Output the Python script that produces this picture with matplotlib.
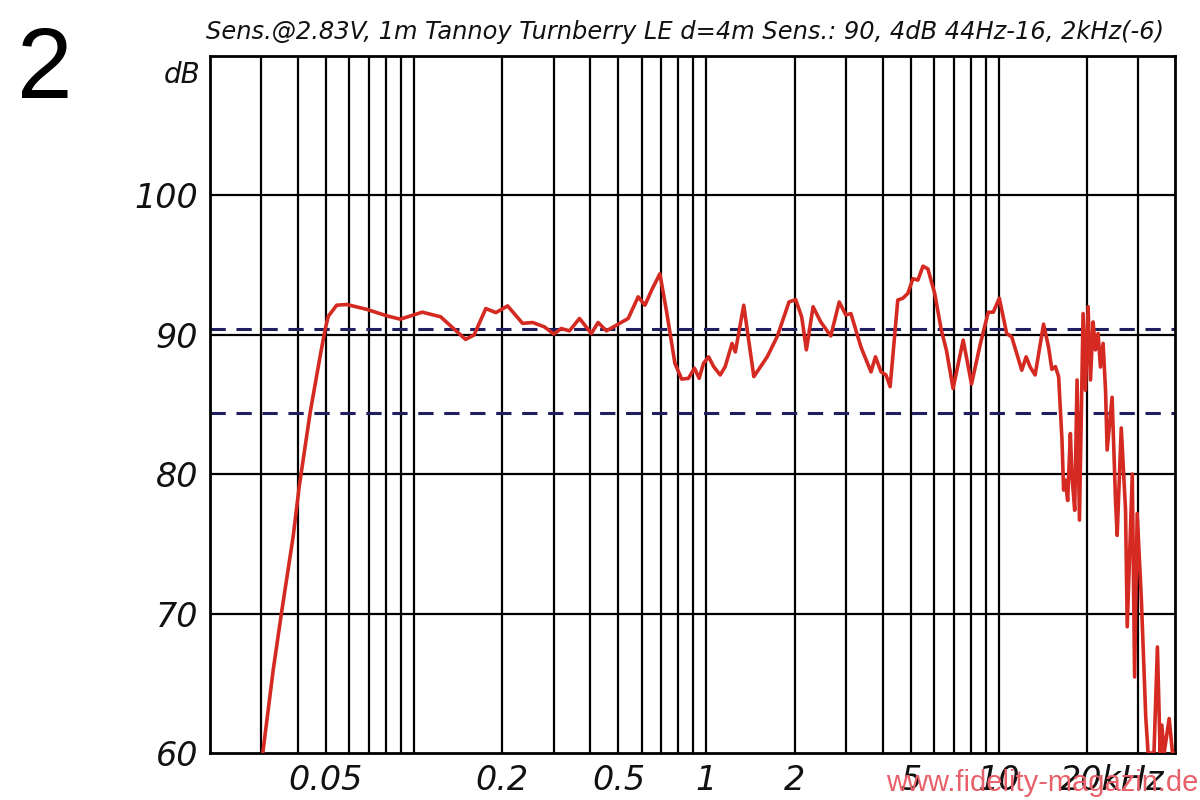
import matplotlib
matplotlib.use("Agg")
import matplotlib.pyplot as plt
from matplotlib.transforms import ScaledTranslation
import numpy as np

# frequency response (kHz, dB)
freq_khz = [
    0.0304, 0.033, 0.0352, 0.0386, 0.0405, 0.0441, 0.0477, 0.0496, 0.0509, 0.0544,
    0.0589, 0.069, 0.0809, 0.0898, 0.1067, 0.1233, 0.150, 0.1604, 0.176, 0.1905,
    0.209, 0.235, 0.2546, 0.279, 0.3006, 0.3186, 0.340, 0.368, 0.404, 0.426,
    0.455, 0.499, 0.540, 0.584, 0.616, 0.65, 0.693, 0.731, 0.78, 0.823,
    0.868, 0.91, 0.944, 0.977, 1.017, 1.058, 1.114, 1.159, 1.223, 1.255,
    1.341, 1.452, 1.613, 1.746, 1.915, 2.018, 2.116, 2.196, 2.315, 2.459,
    2.661, 2.844, 2.997, 3.118, 3.375, 3.652, 3.783, 3.953, 4.11, 4.246,
    4.51, 4.694, 4.883, 5.08, 5.284, 5.5, 5.717, 6.03, 6.353, 6.61,
    6.97, 7.547, 8.06, 8.61, 9.195, 9.566, 10.03, 10.63, 11.06, 11.97,
    12.39, 12.79, 13.3, 14.21, 14.78, 15.17, 15.6, 16.0, 16.43, 16.64,
    16.87, 17.18, 17.55, 17.78, 18.16, 18.5, 18.85, 19.4, 19.77, 20.18,
    20.56, 20.99, 21.38, 21.83, 22.24, 22.71, 23.15, 23.44, 24.38, 25.05,
    25.37, 26.2, 27.1, 27.46, 28.58, 29.1, 29.7, 30.7, 31.77, 32.36,
    33.9, 34.83, 35.58, 36.06, 36.72, 38.2, 39.22, 40.0,
]
level_db = [
    60.0, 65.95, 70.0, 75.5, 79.1, 84.35, 88.4, 90.3, 91.3, 92.1,
    92.15, 91.8, 91.33, 91.1, 91.6, 91.27, 89.65, 89.96, 91.86, 91.57,
    92.05, 90.8, 90.86, 90.55, 90.03, 90.43, 90.26, 91.15, 90.07, 90.86,
    90.26, 90.74, 91.15, 92.7, 92.1, 93.2, 94.35, 91.6, 87.93, 86.8,
    86.86, 87.58, 86.86, 87.93, 88.4, 87.7, 87.1, 87.7, 89.36, 88.75,
    92.1, 86.98, 88.4, 89.86, 92.33, 92.5, 91.27, 88.9, 91.99, 90.9,
    89.9, 92.33, 91.4, 91.5, 89.1, 87.32, 88.4, 87.32, 87.1, 86.26,
    92.47, 92.6, 92.95, 94.0, 93.9, 94.9, 94.7, 92.95, 90.32, 88.9,
    86.13, 89.6, 86.45, 89.2, 91.6, 91.6, 92.6, 90.07, 89.83, 87.44,
    88.4, 87.67, 87.1, 90.74, 89.1, 87.5, 87.7, 86.98, 82.44, 78.85,
    79.57, 78.1, 82.9, 79.8, 77.4, 86.74, 76.7, 91.5, 86.0, 92.0,
    86.74, 90.9, 88.9, 90.07, 87.67, 89.36, 86.0, 81.72, 85.5, 78.0,
    75.6, 83.3, 77.4, 69.05, 80.0, 65.45, 77.17, 70.96, 62.6, 60.0,
    60.0, 67.6, 60.0, 62.0, 60.0, 62.47, 60.0, 60.0,
]

sens_db = 90.4      # sensitivity line
minus6_db = 84.4    # -6 dB line

x_ticks = [0.05, 0.2, 0.5, 1, 2, 5, 10, 20]
x_labels = ["0.05", "0.2", "0.5", "1", "2", "5", "10", "20kHz"]
y_ticks = [60, 70, 80, 90, 100]

title = "Sens.@2.83V, 1m Tannoy Turnberry LE d=4m Sens.: 90, 4dB 44Hz-16, 2kHz(-6)"

fig = plt.figure(figsize=(12, 8), dpi=100)
ax = fig.add_axes([209.6 / 1200, 1 - 753 / 800, (1175 - 209.6) / 1200, (753 - 55.5) / 800])

ax.set_xscale("log")
ax.set_xlim(0.02, 40)
ax.set_ylim(60, 110)

# log grid: every 1..9 multiple in each decade
grid_x = [m * 10.0 ** d for d in range(-2, 2) for m in range(1, 10)]
grid_x = [g for g in grid_x if 0.02 < g < 40]
for g in grid_x:
    ax.axvline(g, color="black", lw=1.6, zorder=1)
for yv in [70, 80, 90, 100]:
    ax.axhline(yv, color="black", lw=1.6, zorder=1)

ax.axhline(sens_db, color="#1f1f5e", lw=2.2, dashes=(5, 3.5), zorder=2)
ax.axhline(minus6_db, color="#1f1f5e", lw=2.2, dashes=(5, 3.5), zorder=2)

ax.plot(freq_khz, level_db, color="#d42a22", lw=2.6, zorder=3, clip_on=True)

ax.set_xticks(x_ticks)
ax.set_xticklabels(x_labels)
ax.xaxis.set_minor_locator(matplotlib.ticker.NullLocator())
ax.set_yticks(y_ticks)
ax.set_yticklabels([str(v) for v in y_ticks])
ax.tick_params(length=0, labelsize=24, pad=8)
for lab in ax.get_xticklabels() + ax.get_yticklabels():
    lab.set_fontstyle("italic")
    lab.set_color("#111111")

# shift "20kHz" so that "20" sits on its gridline
last = ax.get_xticklabels()[-1]
last.set_ha("left")
last.set_transform(last.get_transform() + ScaledTranslation(-0.27, 0, fig.dpi_scale_trans))

for s in ax.spines.values():
    s.set_linewidth(2)
    s.set_color("black")

fig.text(200 / 1200, 1 - 75 / 800, "dB", ha="right", va="center", fontsize=20,
         style="italic", color="#111111")
fig.text(685 / 1200, 1 - 32 / 800, title, ha="center", va="center", fontsize=17.4,
         style="italic", color="#111111")
fig.text(45 / 1200, 1 - 72 / 800, "2", ha="center", va="center", fontsize=72,
         family="Liberation Sans", color="black")
fig.text(1198 / 1200, 1 - 783 / 800, "www.fidelity-magazin.de", ha="right", va="center",
         fontsize=21, family="Liberation Sans", color="#e8606a", zorder=10)

fig.savefig("out.png", dpi=100)
